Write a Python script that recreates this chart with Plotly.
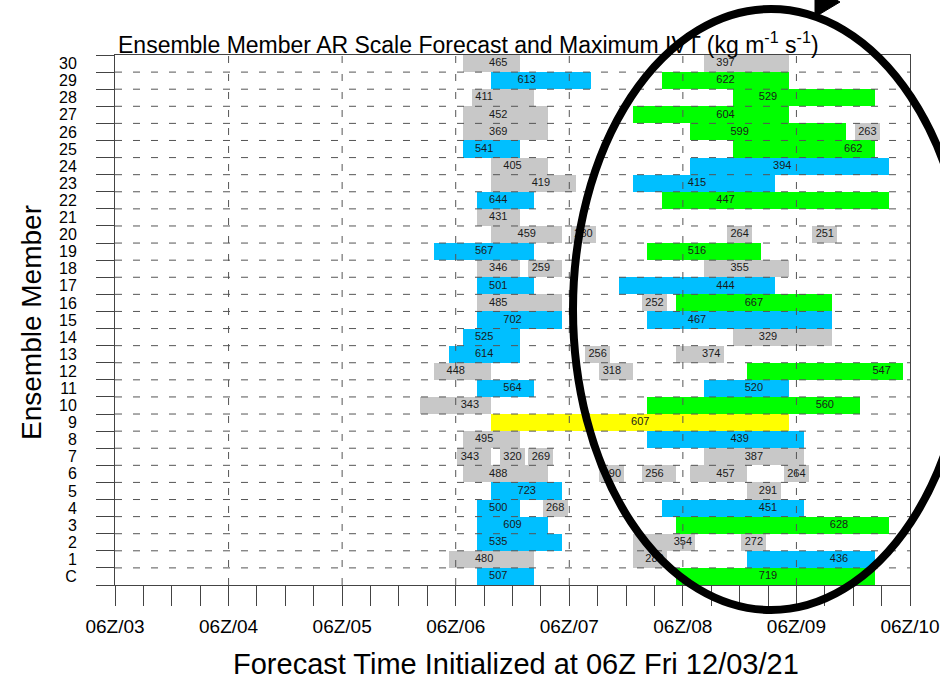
import plotly.graph_objects as go

# ---------------- data ----------------
init_text = "06Z Fri 12/03/21"
day_hours = [0, 24, 48, 72, 96, 120, 144, 168]
day_labels = ["06Z/03", "06Z/04", "06Z/05", "06Z/06", "06Z/07", "06Z/08", "06Z/09", "06Z/10"]
member_labels = ["C"] + [str(i) for i in range(1, 31)]

# one entry per AR event: ensemble member, first and last 3-hourly step (hours after init),
# time of maximum IVT, maximum IVT (kg m-1 s-1), AR-scale category
ev_member = ["30", "30", "29", "29", "28", "28", "27", "27", "26", "26", "26", "25", "25",
             "24", "24", "23", "23", "22", "22", "21", "20", "20", "20", "20", "19", "19",
             "18", "18", "18", "17", "17", "16", "16", "16", "15", "15", "14", "14",
             "13", "13", "13", "12", "12", "12", "11", "11", "10", "10", "9", "8", "8",
             "7", "7", "7", "7", "6", "6", "6", "6", "6", "5", "5", "4", "4", "4",
             "3", "3", "2", "2", "2", "1", "1", "1", "C", "C"]
ev_first = [75, 126, 81, 117, 78, 132, 75, 111, 75, 123, 159, 75, 132,
            81, 123, 81, 111, 78, 117, 78, 81, 99, 132, 150, 69, 114,
            78, 90, 126, 78, 108, 78, 114, 120, 78, 114, 75, 132,
            72, 102, 120, 69, 105, 135, 78, 126, 66, 114, 81, 75, 114,
            75, 84, 90, 126, 75, 105, 114, 123, 144, 81, 135, 78, 93, 117,
            78, 120, 78, 111, 135, 72, 111, 135, 78, 120]
ev_last = [84, 141, 99, 141, 87, 159, 90, 141, 90, 153, 159, 84, 159,
           90, 162, 96, 138, 87, 162, 84, 93, 99, 132, 150, 87, 135,
           84, 93, 141, 87, 138, 93, 114, 150, 93, 150, 84, 150,
           84, 102, 126, 78, 108, 165, 87, 141, 78, 156, 141, 84, 144,
           78, 84, 90, 144, 90, 105, 117, 132, 144, 93, 138, 84, 93, 144,
           90, 162, 93, 120, 135, 87, 114, 159, 87, 159]
ev_peak = [81, 129, 87, 129, 78, 138, 81, 129, 81, 132, 159, 78, 156,
           84, 141, 90, 123, 81, 129, 81, 87, 99, 132, 150, 78, 123,
           81, 90, 132, 81, 129, 81, 114, 135, 84, 123, 78, 138,
           78, 102, 126, 72, 105, 162, 84, 135, 75, 150, 111, 78, 132,
           75, 84, 90, 135, 81, 105, 114, 129, 144, 87, 138, 81, 93, 138,
           84, 153, 81, 120, 135, 78, 114, 153, 81, 138]
ev_ivt = [465, 397, 613, 622, 411, 529, 452, 604, 369, 599, 263, 541, 662,
          405, 394, 419, 415, 644, 447, 431, 459, 280, 264, 251, 567, 516,
          346, 259, 355, 501, 444, 485, 252, 667, 702, 467, 525, 329,
          614, 256, 374, 448, 318, 547, 564, 520, 343, 560, 607, 495, 439,
          343, 320, 269, 387, 488, 290, 256, 457, 264, 723, 291, 500, 268, 451,
          609, 628, 535, 354, 272, 480, 282, 436, 507, 719]
ev_cat = ["none", "none", "AR1", "AR2", "none", "AR2", "none", "AR2", "none", "AR2", "none", "AR1", "AR2",
          "none", "AR1", "none", "AR1", "AR1", "AR2", "none", "none", "none", "none", "none", "AR1", "AR2",
          "none", "none", "none", "AR1", "AR1", "none", "none", "AR2", "AR1", "AR1", "AR1", "none",
          "AR1", "none", "none", "none", "none", "AR2", "AR1", "AR1", "none", "AR2", "AR3", "none", "AR1",
          "none", "none", "none", "none", "none", "none", "none", "none", "none", "AR1", "none", "AR1", "none", "AR1",
          "AR1", "AR2", "AR1", "none", "none", "none", "none", "AR1", "AR1", "AR2"]

# ---------------- style ----------------
cat_colors = {"none": "#c8c8c8", "AR1": "#00bfff", "AR2": "#00ff00", "AR3": "#ffff00"}
STEP = 3.0            # model output interval (h)
LABEL_HALF = 2.65     # half width of the label background (h)
FONT = "Liberation Sans, Arial, Helvetica, sans-serif"
W, H = 940, 680
ML, MR, MT, MB = 115, 30, 55, 95


def px(x):
    return (x - ML) / (W - ML - MR)


def py(y):
    return (H - MB - y) / (H - MT - MB)


ys = [member_labels.index(m) for m in ev_member]
colors = [cat_colors[c] for c in ev_cat]

fig = go.Figure()
fig.add_trace(go.Bar(
    orientation="h", y=ys,
    base=[f - STEP / 2 for f in ev_first],
    x=[l - f + STEP for f, l in zip(ev_first, ev_last)],
    width=1.0, marker=dict(color=colors, line=dict(width=0)),
    hoverinfo="skip"))
fig.add_trace(go.Bar(
    orientation="h", y=ys,
    base=[p - LABEL_HALF for p in ev_peak],
    x=[2 * LABEL_HALF] * len(ev_peak),
    width=1.0, marker=dict(color=colors, line=dict(width=0)),
    hoverinfo="skip"))
fig.add_trace(go.Scatter(
    x=ev_peak, y=ys, mode="text", text=[str(v) for v in ev_ivt],
    textposition="middle center",
    textfont=dict(family=FONT, size=11, color="#1a1a1a"),
    hoverinfo="skip"))

shapes = []
grid = dict(color="#555555", width=1, dash="7px,11px")
for k in range(len(member_labels) - 1):
    shapes.append(dict(type="line", xref="x", yref="y", x0=day_hours[0], x1=day_hours[-1],
                       y0=k + 0.5, y1=k + 0.5, line=grid, layer="above"))
for d in day_hours[1:-1]:
    shapes.append(dict(type="line", xref="x", yref="y", x0=d, x1=d,
                       y0=-0.5, y1=len(member_labels) - 0.5, line=grid, layer="above"))

# hand-drawn highlight ellipse and arrow
shapes.append(dict(type="circle", xref="paper", yref="paper",
                   x0=px(573), x1=px(969), y0=py(610), y1=py(9),
                   line=dict(color="black", width=8), fillcolor="rgba(0,0,0,0)", layer="above"))
shapes.append(dict(type="path", xref="paper", yref="paper",
                   path=f"M {px(815)},{py(17)} L {px(840)},{py(2)} L {px(815)},{py(-12)} Z",
                   fillcolor="black", line=dict(color="black", width=1), layer="above"))
shapes.append(dict(type="line", xref="paper", yref="paper",
                   x0=px(826), y0=py(-3), x1=px(850), y1=py(-45),
                   line=dict(color="black", width=8), layer="above"))

annotations = [
    dict(xref="paper", yref="paper", x=px(116), y=py(43), xanchor="left", yanchor="middle",
         text="Ensemble Member AR Scale Forecast and Maximum IVT (kg m<sup>-1</sup> s<sup>-1</sup>)",
         showarrow=False, font=dict(family=FONT, size=23, color="black")),
    dict(xref="paper", yref="paper", x=px(516), y=py(664), xanchor="center", yanchor="middle",
         text="Forecast Time Initialized at " + init_text,
         showarrow=False, font=dict(family=FONT, size=29, color="black")),
    dict(xref="paper", yref="paper", x=px(31), y=py(323), xanchor="center", yanchor="middle",
         text="Ensemble Member", textangle=-90,
         showarrow=False, font=dict(family=FONT, size=28, color="black")),
]

fig.update_layout(
    width=W, height=H, margin=dict(l=ML, r=MR, t=MT, b=MB, autoexpand=False),
    barmode="overlay", bargap=0, showlegend=False,
    plot_bgcolor="white", paper_bgcolor="white",
    shapes=shapes, annotations=annotations,
    font=dict(family=FONT, color="black"),
    xaxis=dict(range=[day_hours[0], day_hours[-1]], tickmode="array", tickvals=day_hours,
               ticktext=day_labels, ticks="outside", ticklen=20, tickcolor="#444",
               tickfont=dict(size=19), showgrid=False, zeroline=False, automargin=False,
               showline=True, mirror=True, linecolor="#444", linewidth=1,
               ticklabelstandoff=4,
               minor=dict(tick0=0, dtick=6, ticks="outside", ticklen=20, tickcolor="#444",
                          showgrid=False)),
    yaxis=dict(range=[-0.5, len(member_labels) - 0.5], tickmode="array",
               tickvals=list(range(len(member_labels))), ticktext=member_labels,
               ticks="", tickfont=dict(size=16), showgrid=False, zeroline=False, automargin=False,
               showline=True, mirror=True, linecolor="#444", linewidth=1,
               ticklabelstandoff=34,
               minor=dict(tickmode="array",
                          tickvals=[k - 0.5 for k in range(len(member_labels) + 1)],
                          ticks="outside", ticklen=18, tickcolor="#444", showgrid=False)),
)

fig.write_html("out.html", config={"displayModeBar": False},
               post_script="document.body.style.margin='0';document.body.style.overflow='hidden';")
